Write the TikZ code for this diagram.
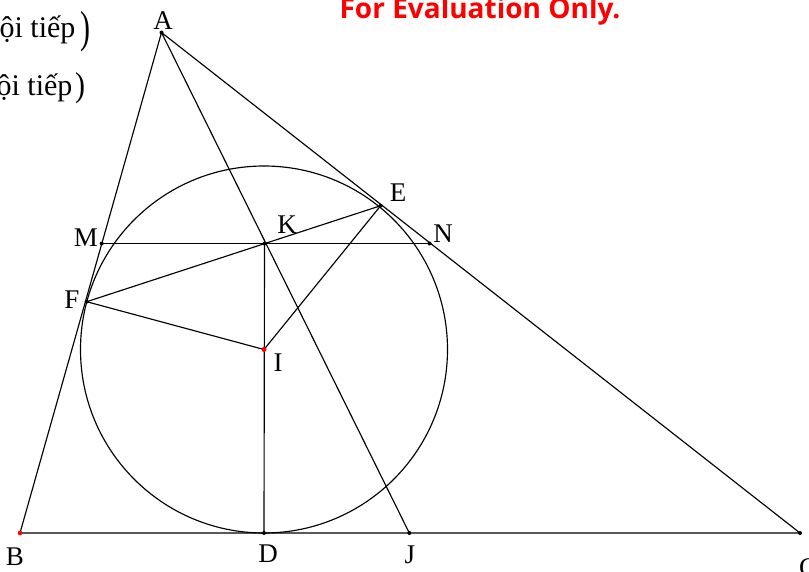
\documentclass[tikz,border=0pt]{standalone}
\usepackage{graphicx}
\usepackage{fontspec}
\setmainfont{Liberation Serif}
\newfontfamily\evalfont{Open Sans}
\begin{document}
\begin{tikzpicture}[x=1pt,y=-1pt, line width=1.15pt,
  lbl/.style={font=\fontsize{27}{27}\selectfont, inner sep=0pt},
  cut/.style={font=\fontsize{30}{30}\selectfont, inner sep=0pt},
  bdot/.style={fill=black, draw=none},
  rdot/.style={fill=red, draw=none}]
\useasboundingbox (0,0) rectangle (809,571);
\clip (0,0) rectangle (809,571);
% points
\coordinate (A) at (161.5,32.5);
\coordinate (B) at (20,533);
\coordinate (C) at (800,533);
\coordinate (D) at (264,533);
\coordinate (I) at (264,349.5);
\coordinate (E) at (380.7,205.7);
\coordinate (F) at (86.7,301.7);
\coordinate (M) at (101.7,243.5);
\coordinate (N) at (429.5,243.5);
\coordinate (K) at (264.5,243.5);
\coordinate (J) at (409.3,533);
% figure
\draw (A) -- (B) -- (C) -- cycle;
\draw (I) circle (183.5);
\draw (A) -- (J);
\draw (M) -- (N);
\draw (K) -- (D);
\draw (F) -- (E);
\draw (I) -- (F);
\draw (I) -- (E);
% dots
\foreach \p in {A,C,D,E,F,M,N,K,J} \fill[bdot] (\p) circle (2);
\fill[rdot] (B) circle (2.3);
\fill[rdot] (I) circle (2.5);
% labels
\node[lbl] (lA) at (163,21) {A};
\node[lbl] (lB) at (15,557) {B};
\node[lbl] (lC) at (808,568) {C};
\node[lbl] (lD) at (268,554) {D};
\node[lbl] (lJ) at (410,555) {J};
\node[lbl] (lE) at (398,193) {E};
\node[lbl] (lN) at (443,234) {N};
\node[lbl] (lM) at (86,238) {M};
\node[lbl] (lK) at (287,225) {K};
\node[lbl] (lF) at (72,300) {F};
\node[lbl] (lI) at (278,363) {I};
% cut-off texts
\node[cut, anchor=base east] (t1) at (76,37) {nội tiếp};
\node[cut] (p1) at (85,31.5) {\scalebox{1}[1.5]{)}};
\node[cut, anchor=base east] (t2) at (73,95) {nội tiếp};
\node[cut] (p2) at (80,88.5) {\scalebox{1}[1.15]{)}};
\node[font=\evalfont\bfseries\fontsize{28}{28}\selectfont, text=red, inner sep=0pt, anchor=base east] (ev) at (621,18.5) {For Evaluation Only.};
\end{tikzpicture}
\end{document}
